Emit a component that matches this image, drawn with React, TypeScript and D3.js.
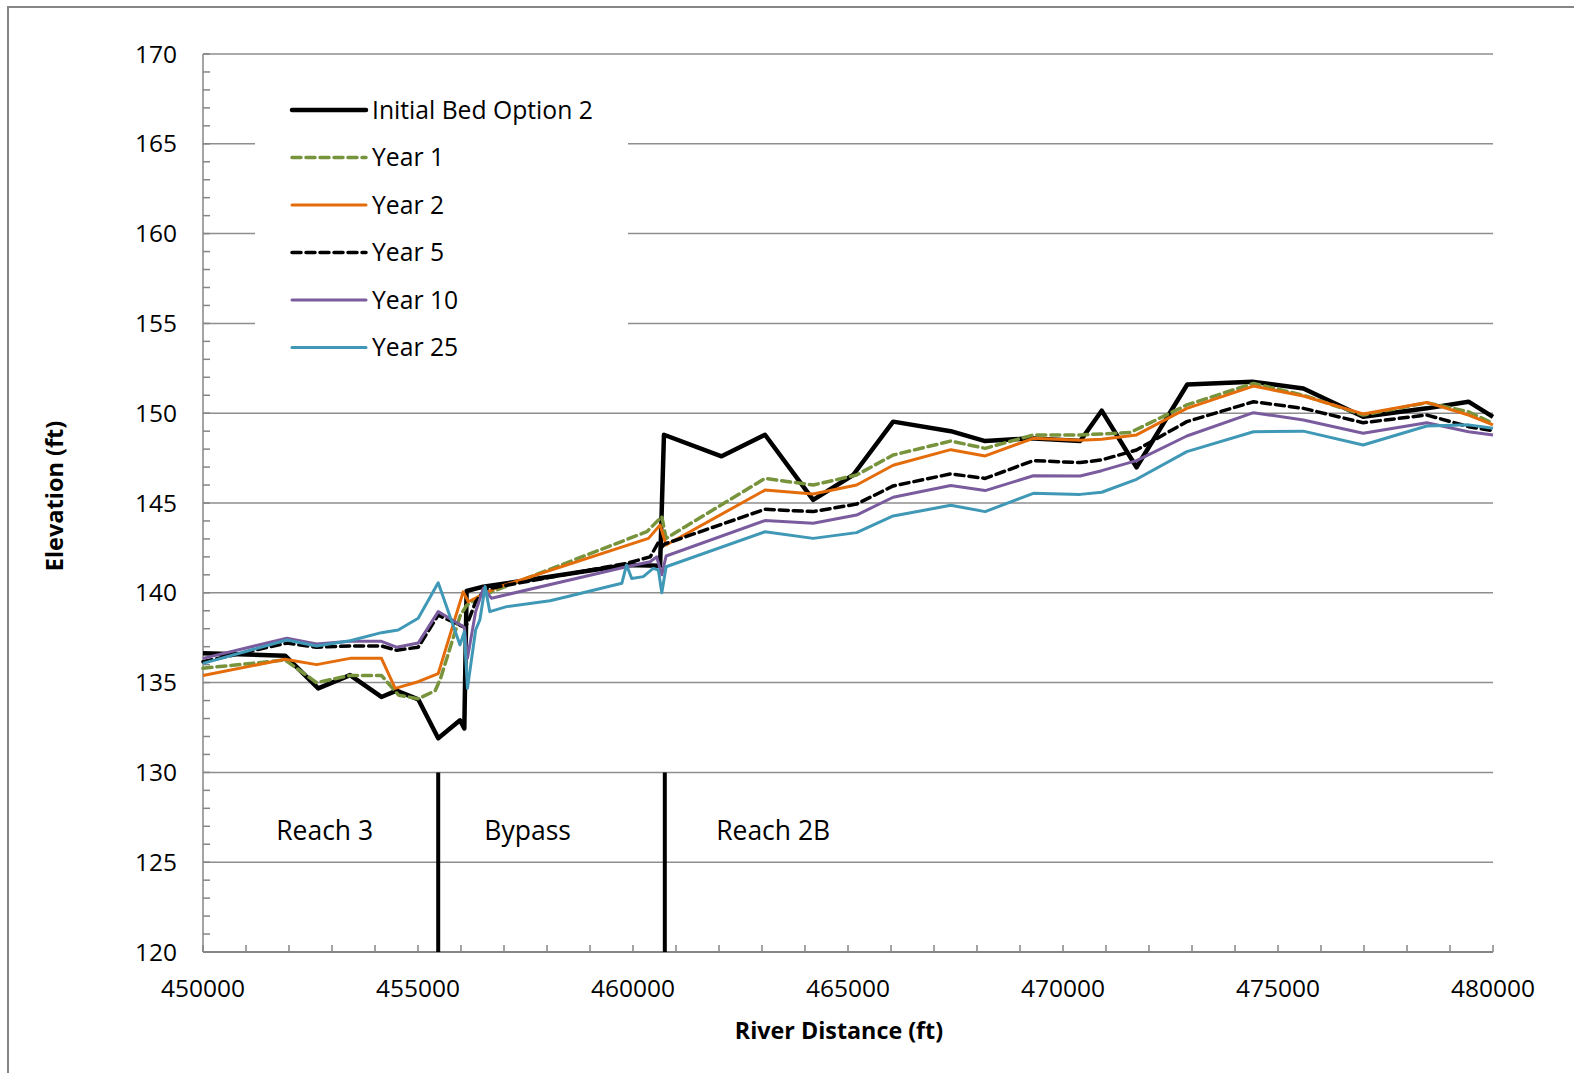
import React from "react";
import * as d3 from "d3";

type Pt = [number, number];

const initialBed: Pt[] = [
  [450000, 136.63], [451910, 136.5], [452680, 134.68], [453420, 135.42], [454150, 134.2],
  [454500, 134.55], [455005, 134.07], [455470, 131.9], [455977, 132.9], [456077, 132.45],
  [456130, 140.1], [456520, 140.34], [459850, 141.55], [460630, 141.5], [460720, 148.8],
  [462060, 147.6], [463070, 148.8], [464190, 145.17], [465120, 146.56], [466050, 149.53],
  [467390, 149.0], [468190, 148.45], [469230, 148.6], [470400, 148.45], [470900, 150.14],
  [471710, 146.99], [472890, 151.6], [474400, 151.75], [475590, 151.38], [476980, 149.8],
  [478460, 150.27], [479430, 150.64], [480000, 149.8],
];

const year1: Pt[] = [
  [450000, 135.8], [451910, 136.26], [452640, 135.0], [453420, 135.4], [454150, 135.4],
  [454550, 134.3], [455005, 134.1], [455400, 134.55], [455520, 135.2], [455977, 138.7],
  [456130, 139.3], [456440, 139.8], [460320, 143.4], [460670, 144.24], [460770, 143.03],
  [463070, 146.37], [464190, 146.0], [465200, 146.56], [466050, 147.67], [467390, 148.45],
  [468190, 148.04], [469310, 148.79], [470400, 148.79], [471560, 148.92], [472880, 150.46],
  [474430, 151.66], [475590, 151.0], [476980, 149.9], [478460, 150.58], [479430, 150.08],
  [480000, 149.43],
];

const year2: Pt[] = [
  [450000, 135.4], [451910, 136.3], [452640, 136.0], [453420, 136.35], [454150, 136.35],
  [454470, 134.68], [455005, 135.05], [455470, 135.5], [456050, 140.05], [456170, 139.5],
  [456790, 140.25], [460360, 143.03], [460630, 143.77], [460770, 142.66], [463070, 145.72],
  [464190, 145.5], [465200, 146.0], [466050, 147.1], [467390, 147.97], [468190, 147.62],
  [469310, 148.6], [470400, 148.5], [470900, 148.55], [471710, 148.79], [472880, 150.27],
  [474430, 151.51], [475590, 150.96], [476980, 149.96], [478460, 150.6], [479430, 149.9],
  [480000, 149.35],
];

const year5: Pt[] = [
  [450000, 136.16], [451950, 137.2], [452640, 136.97], [453420, 137.04], [454150, 137.04],
  [454500, 136.8], [455005, 136.97], [455470, 138.76], [456077, 138.08], [456150, 138.3],
  [456340, 139.5], [456560, 140.2], [459850, 141.64], [460400, 142.0], [460590, 142.8],
  [460670, 142.55], [460740, 142.72], [463070, 144.65], [464190, 144.52], [465200, 144.94],
  [466050, 145.95], [467390, 146.62], [468190, 146.37], [469310, 147.36], [470400, 147.25],
  [470900, 147.4], [471710, 147.95], [472880, 149.53], [474430, 150.64], [475590, 150.27],
  [476980, 149.47], [478460, 149.9], [479430, 149.25], [480000, 149.03],
];

const year10: Pt[] = [
  [450000, 136.35], [451950, 137.47], [452640, 137.15], [453420, 137.3], [454150, 137.3],
  [454500, 136.97], [455005, 137.2], [455470, 138.95], [456077, 138.08], [456150, 136.35],
  [456340, 138.95], [456520, 140.25], [456710, 139.7], [459850, 141.45], [460400, 141.73],
  [460550, 142.0], [460670, 141.0], [460770, 142.05], [463070, 144.02], [464190, 143.87],
  [465200, 144.33], [466050, 145.32], [467390, 145.97], [468190, 145.69], [469310, 146.52],
  [470400, 146.5], [470900, 146.8], [471710, 147.36], [472880, 148.73], [474430, 150.03],
  [475590, 149.62], [476980, 148.88], [478460, 149.47], [479430, 148.97], [480000, 148.79],
];

const year25: Pt[] = [
  [450000, 136.07], [451950, 137.37], [452640, 137.04], [453420, 137.33], [454150, 137.78],
  [454540, 137.93], [455005, 138.58], [455470, 140.56], [455977, 137.1], [456077, 137.83],
  [456150, 134.68], [456340, 137.93], [456440, 138.5], [456560, 140.35], [456670, 138.95],
  [457060, 139.23], [458070, 139.56], [458460, 139.78], [459740, 140.53], [459850, 141.55],
  [459970, 140.8], [460240, 140.9], [460470, 141.36], [460590, 141.27], [460670, 140.0],
  [460770, 141.45], [463070, 143.4], [464190, 143.03], [465200, 143.35], [466050, 144.28],
  [467390, 144.87], [468190, 144.52], [469310, 145.54], [470400, 145.48], [470900, 145.6],
  [471710, 146.32], [472880, 147.86], [474430, 148.97], [475590, 149.0], [476980, 148.23],
  [478460, 149.29], [479430, 149.35], [480000, 149.16],
];

const seriesNames = ["Initial Bed Option 2", "Year 1", "Year 2", "Year 5", "Year 10", "Year 25"];
const seriesData = [initialBed, year1, year2, year5, year10, year25];
const seriesColors = ["#000000", "#77933C", "#E46C0A", "#000000", "#7A5C9E", "#3F98B6"];
const seriesWidths = [4.5, 3.5, 3, 3.5, 3, 3];
const seriesDash = ["", "9,5", "", "9,5", "", ""];

const xTicks = [450000, 455000, 460000, 465000, 470000, 475000, 480000];
const yTicks = [120, 125, 130, 135, 140, 145, 150, 155, 160, 165, 170];

const reachDividers = [455470, 460740];
const reachLabels: [string, number][] = [["Reach 3", 452830], ["Bypass", 457550], ["Reach 2B", 463260]];

const W = 1574;
const H = 1073;
const FONT = "'Open Sans', 'DejaVu Sans', sans-serif";

export default function App() {
  const x = d3.scaleLinear().domain([450000, 480000]).range([203, 1493]);
  const y = d3.scaleLinear().domain([120, 170]).range([952, 54]);
  const line = d3
    .line<Pt>()
    .x((d) => x(d[0]))
    .y((d) => y(d[1]));

  const minorY = d3.range(120, 171, 1);
  const minorX = d3.range(450000, 480001, 1000);

  const legendRowY = (i: number) => 110 + i * 47.5;

  return (
    <svg
      width={W}
      height={H}
      style={{ position: "absolute", left: 0, top: 0, background: "#fff" }}
      fontFamily={FONT}
    >
      <rect x={0} y={0} width={W} height={H} fill="#fff" />
      <rect x={8} y={7} width={W + 20} height={H + 20} fill="#fff" stroke="#868686" strokeWidth={2} />

      {/* gridlines */}
      {yTicks.slice(1).map((t) => (
        <line key={"g" + t} x1={x(450000)} x2={x(480000)} y1={y(t)} y2={y(t)} stroke="#8E8E8E" strokeWidth={1.5} />
      ))}

      {/* axes */}
      <line x1={x(450000)} x2={x(450000)} y1={y(120)} y2={y(170)} stroke="#868686" strokeWidth={1.5} />
      <line x1={x(450000)} x2={x(480000)} y1={y(120)} y2={y(120)} stroke="#868686" strokeWidth={2} />
      {minorY.map((t) => (
        <line key={"my" + t} x1={x(450000)} x2={x(450000) + 7} y1={y(t)} y2={y(t)} stroke="#868686" strokeWidth={1.5} />
      ))}
      {minorX.map((t) => (
        <line key={"mx" + t} x1={x(t)} x2={x(t)} y1={y(120)} y2={y(120) - 7} stroke="#868686" strokeWidth={1.5} />
      ))}

      {/* tick labels */}
      {yTicks.map((t) => (
        <text key={"yl" + t} x={177} y={y(t) + 8.5} textAnchor="end" fontSize={24.5} fill="#000">
          {t}
        </text>
      ))}
      {xTicks.map((t) => (
        <text key={"xl" + t} x={x(t)} y={997} textAnchor="middle" fontSize={24.5} fill="#000">
          {t}
        </text>
      ))}

      {/* axis titles */}
      <text x={839} y={1039} textAnchor="middle" fontSize={23.3} fontWeight="bold" fill="#000">
        River Distance (ft)
      </text>
      <text
        transform={`translate(63,496) rotate(-90)`}
        textAnchor="middle"
        fontSize={23.5}
        fontWeight="bold"
        fill="#000"
      >
        Elevation (ft)
      </text>

      {/* reach dividers */}
      {reachDividers.map((d) => (
        <line key={"rd" + d} x1={x(d)} x2={x(d)} y1={y(130)} y2={y(120)} stroke="#000" strokeWidth={4} />
      ))}
      {reachLabels.map(([t, d]) => (
        <text key={t} x={x(d)} y={840} textAnchor="middle" fontSize={26.5} fill="#000">
          {t}
        </text>
      ))}

      {/* series */}
      {seriesData.map((s, i) => (
        <path
          key={seriesNames[i]}
          d={line(s) || ""}
          fill="none"
          stroke={seriesColors[i]}
          strokeWidth={seriesWidths[i]}
          strokeDasharray={seriesDash[i] || undefined}
          strokeLinejoin="round"
          strokeLinecap={seriesDash[i] ? "round" : "butt"}
        />
      ))}

      {/* legend */}
      <rect x={255} y={76} width={373} height={295} fill="#fff" />
      {seriesNames.map((n, i) => (
        <g key={"lg" + n}>
          <line
            x1={292}
            x2={366}
            y1={legendRowY(i)}
            y2={legendRowY(i)}
            stroke={seriesColors[i]}
            strokeWidth={seriesWidths[i]}
            strokeDasharray={seriesDash[i] || undefined}
            strokeLinecap="round"
          />
          <text x={372} y={legendRowY(i) + 8.5} fontSize={24.7} fill="#000">
            {n}
          </text>
        </g>
      ))}
    </svg>
  );
}
